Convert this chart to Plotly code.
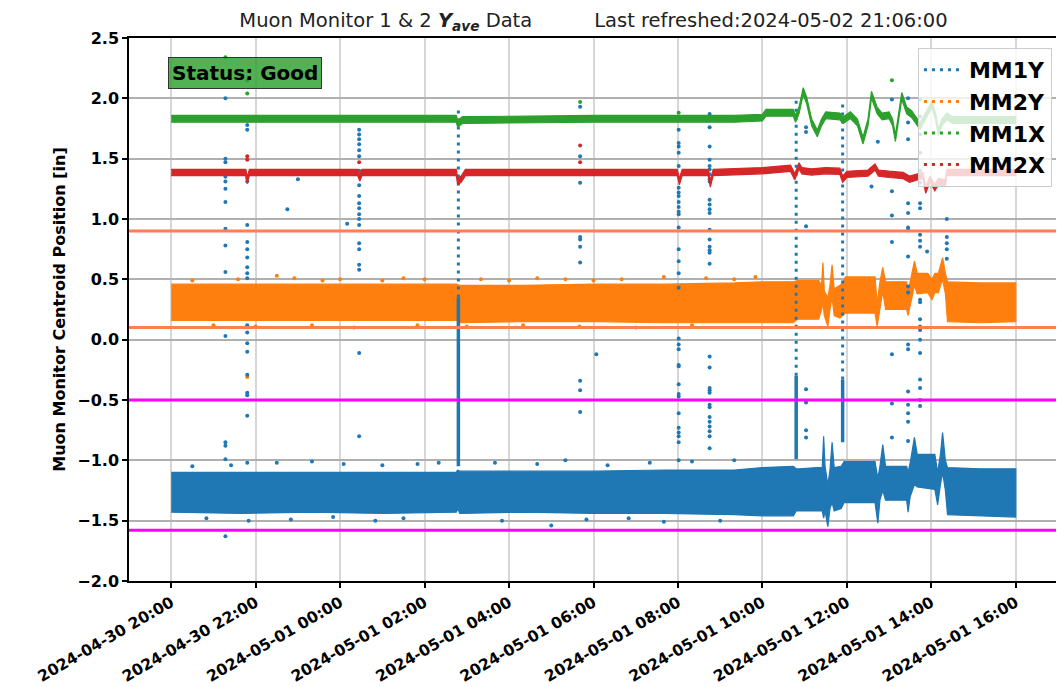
import pandas as pd
import plotly.graph_objects as go

# ---------------- data (minutes after 2024-04-30 20:00) ----------------
T0 = pd.Timestamp("2024-04-30 20:00")

# MM1Y (blue) dense band: lower / upper envelope
blue_t = [0, 100, 200, 300, 405, 407, 410, 500, 600, 700, 800, 840, 884, 888, 892, 918, 925, 927, 929, 933,
          936, 939, 942, 952, 956, 1000, 1004, 1007, 1011, 1015, 1045, 1047, 1050, 1056, 1060, 1085, 1089, 1093,
          1096, 1100, 1103, 1150, 1200]
blue_lo = [-1.43, -1.44, -1.43, -1.44, -1.43, -1.40, -1.44, -1.43, -1.44, -1.44, -1.45, -1.46, -1.46, -1.42, -1.42,
           -1.42, -1.42, -1.48, -1.42, -1.55, -1.40, -1.35, -1.42, -1.40, -1.35, -1.35, -1.52, -1.33, -1.25, -1.33,
           -1.33, -1.43, -1.30, -1.20, -1.22, -1.24, -1.37, -1.20, -1.10, -1.25, -1.45, -1.46, -1.47]
blue_hi = [-1.10, -1.10, -1.10, -1.10, -1.10, -1.08, -1.09, -1.09, -1.09, -1.08, -1.08, -1.06, -1.05, -1.07, -1.07,
           -1.06, -1.06, -0.80, -1.05, -1.20, -1.08, -0.85, -1.06, -1.05, -1.01, -1.01, -1.15, -1.05, -0.87, -1.05,
           -1.05, -1.10, -1.02, -0.81, -0.95, -0.95, -1.10, -0.95, -0.77, -1.00, -1.06, -1.07, -1.07]

# MM2Y (orange) dense band
orange_t = [0, 100, 200, 300, 405, 410, 500, 600, 700, 800, 840, 884, 890, 920, 924, 926, 928, 933, 936, 939,
            942, 950, 954, 958, 1000, 1003, 1007, 1011, 1015, 1045, 1047, 1050, 1056, 1060, 1075, 1081, 1085, 1090,
            1096, 1100, 1103, 1150, 1200]
orange_lo = [0.16, 0.16, 0.16, 0.16, 0.16, 0.14, 0.15, 0.15, 0.14, 0.14, 0.14, 0.14, 0.17, 0.17, 0.25, 0.30, 0.20,
             0.11, 0.25, 0.35, 0.20, 0.18, 0.20, 0.22, 0.22, 0.11, 0.25, 0.40, 0.25, 0.25, 0.20, 0.28, 0.45, 0.38,
             0.39, 0.33, 0.39, 0.39, 0.50, 0.38, 0.15, 0.14, 0.15]
orange_hi = [0.46, 0.46, 0.46, 0.46, 0.46, 0.45, 0.45, 0.46, 0.46, 0.47, 0.48, 0.48, 0.49, 0.49, 0.45, 0.64, 0.40,
             0.35, 0.45, 0.62, 0.42, 0.45, 0.47, 0.52, 0.52, 0.30, 0.48, 0.60, 0.48, 0.48, 0.40, 0.48, 0.65, 0.55,
             0.55, 0.50, 0.55, 0.55, 0.68, 0.55, 0.48, 0.47, 0.47]

# MM1X (green) centre line
green_t = [0, 200, 405, 407, 410, 414, 600, 800, 840, 845, 884, 887, 892, 898, 903, 910, 918, 924, 930, 950,
           955, 965, 975, 983, 990, 995, 1003, 1010, 1020, 1025, 1029, 1034, 1038, 1045, 1052, 1064, 1072, 1081,
           1086, 1090, 1095, 1102, 1110, 1200]
green_v = [1.83, 1.83, 1.83, 1.79, 1.80, 1.82, 1.83, 1.83, 1.84, 1.88, 1.88, 1.83, 1.90, 2.06, 1.98, 1.80, 1.71,
           1.80, 1.86, 1.85, 1.82, 1.86, 1.80, 1.65, 1.80, 2.03, 1.90, 1.85, 1.86, 1.80, 1.67, 1.85, 2.02, 1.90,
           1.87, 1.77, 1.85, 1.95, 1.85, 1.72, 1.80, 1.85, 1.82, 1.82]

# MM2X (red) centre line
red_t = [0, 106, 108, 111, 265, 268, 271, 405, 407, 412, 418, 719, 722, 726, 763, 766, 770, 840, 880, 886,
         892, 896, 910, 930, 950, 954, 960, 990, 1000, 1005, 1020, 1040, 1049, 1060, 1068, 1072, 1078, 1085,
         1090, 1100, 1102, 1200]
red_v = [1.385, 1.385, 1.32, 1.385, 1.385, 1.34, 1.385, 1.385, 1.31, 1.33, 1.385, 1.385, 1.31, 1.385, 1.385,
         1.29, 1.385, 1.40, 1.42, 1.35, 1.44, 1.40, 1.39, 1.40, 1.395, 1.33, 1.37, 1.38, 1.43, 1.38, 1.37, 1.36,
         1.33, 1.35, 1.36, 1.24, 1.33, 1.26, 1.31, 1.30, 1.385, 1.385]

# MM1Y isolated excursions (beam trips): time and the values seen in that column
spike_t = [77, 108, 267, 581, 721, 765, 902, 1024, 1047, 1064, 1102]
spike_v = [
    [2.00, 1.50, 1.47, 1.35, 1.31, 1.25, 1.14, 0.92, 0.78, 0.56, 0.03, -0.85, -0.88, -0.99, -1.63],
    [1.78, 1.74, 1.34, 1.31, 0.95, 0.81, 0.75, 0.68, 0.60, 0.55, 0.51, 0.12, 0.06, -0.03, -0.10, -0.29,
     -0.44, -0.46, -0.63, -1.02],
    [1.74, 1.70, 1.66, 1.62, 1.57, 1.52, 1.40, 1.28, 1.19, 1.13, 1.09, 1.04, 1.00, 0.95, 0.80, 0.75, 0.62,
     0.58, -0.11, -0.80],
    [1.93, 1.52, 1.37, 1.30, 0.85, 0.83, 0.77, 0.64, -0.34, -0.42, -0.60],
    [1.74, 1.63, 1.60, 1.55, 1.44, 1.26, 1.22, 1.19, 1.14, 1.10, 1.06, 1.04, 0.93, 0.75, 0.65, 0.55, 0.43,
     0.01, -0.04, -0.08, -0.21, -0.22, -0.37, -0.45, -0.47, -0.61, -0.73, -0.77, -0.80, -0.85, -1.00],
    [1.87, 1.76, 1.60, 1.49, 1.44, 1.41, 1.37, 1.33, 1.31, 1.16, 1.12, 1.08, 1.05, 0.91, 0.83, 0.77, 0.74,
     0.72, 0.63, -0.14, -0.23, -0.40, -0.42, -0.44, -0.54, -0.56, -0.64, -0.68, -0.72, -0.76, -0.80, -0.90],
    [1.76, 1.72, 0.94, -0.41, -0.52, -0.75, -0.81],
    [1.99, 1.23, 1.03, 0.81, -0.12, -0.53, -0.81],
    [2.00, 1.90, 1.80, 1.66, 1.13, 1.05, 0.93, 0.91, 0.69, 0.44, 0.39, -0.04, -0.08, -0.43, -0.54, -0.61,
     -0.68, -0.84],
    [1.99, 1.85, 1.70, 1.55, 1.40, 1.30, 1.13, 1.09, 0.87, 0.82, 0.77, 0.33, 0.31, 0.17, 0.11, 0.08, 0.00,
     -0.11, -0.33, -0.40, -0.50, -0.55],
    [1.00, 0.85, 0.80, 0.75, 0.67],
]
# long, busy MM1Y columns: sparse part (top..bottom) and dense part (bottom..top)
col_t = [408, 888, 954]
col_sparse_top = [1.92, 1.99, 1.99]
col_dense_top = [0.35, -0.30, -0.33]
col_dense_bot = [-1.05, -0.99, -0.85]

# other single MM1Y points
blue_pt_t = [165, 180, 250, 604, 995, 1004, 1074, 30, 85, 150, 200, 245, 300, 350, 380, 460, 520, 560, 620,
             680, 740, 800, 50, 110, 170, 230, 290, 330, 470, 540, 590, 650, 700, 780]
blue_pt_v = [1.08, 1.33, 0.96, -0.12, 1.27, 1.64, 0.73, -1.05, -1.04, -1.02, -1.01, -1.03, -1.04, -1.03, -1.02,
             -1.02, -1.03, -1.00, -1.04, -1.02, -1.01, -1.00, -1.48, -1.50, -1.49, -1.47, -1.50, -1.48, -1.50,
             -1.54, -1.49, -1.48, -1.51, -1.50]
orange_pt_t = [108, 30, 95, 150, 175, 215, 240, 300, 330, 360, 440, 480, 520, 560, 600, 640, 700, 760, 800,
               830, 60, 120, 200, 260, 350, 420, 500, 580, 660, 740]
orange_pt_v = [-0.31, 0.49, 0.50, 0.53, 0.51, 0.49, 0.50, 0.49, 0.51, 0.50, 0.50, 0.49, 0.51, 0.50, 0.49, 0.50,
               0.52, 0.51, 0.50, 0.52, 0.12, 0.11, 0.12, 0.10, 0.12, 0.11, 0.12, 0.11, 0.10, 0.12]
green_pt_t = [77, 108, 108, 581, 721, 1024]
green_pt_v = [2.34, 2.15, 2.04, 1.97, 1.88, 2.15]
red_pt_t = [108, 108, 267, 581, 581]
red_pt_v = [1.52, 1.49, 1.47, 1.61, 1.47]

# limits
mm2_limits = [0.9, 0.1]
mm1_limits = [-0.5, -1.58]

series_names = ["MM1Y", "MM2Y", "MM1X", "MM2X"]
series_colors = ["#1f77b4", "#ff7f0e", "#2ca02c", "#d62728"]

title_left = "Muon Monitor 1 & 2 <b><i>Y</i></b><sub><b><i>ave</i></b></sub> Data"
title_right = "Last refreshed:2024-05-02 21:06:00"
status_text = "Status: Good"
y_title = "Muon Monitor Centroid Position [in]"


# ---------------- helpers ----------------
def tm(mins):
    return [T0 + pd.Timedelta(minutes=m) for m in mins]


def band(t, lo, hi, color):
    return go.Scatter(x=tm(t) + tm(t[::-1]), y=list(hi) + list(lo[::-1]), mode="lines",
                      fill="toself", fillcolor=color, line=dict(color=color, width=1.2),
                      showlegend=False, hoverinfo="skip")


def center_band(t, v, half, color):
    return band(t, [a - half for a in v], [a + half for a in v], color)


def points(t, v, color):
    return go.Scatter(x=tm(t), y=v, mode="markers", marker=dict(color=color, size=4),
                      showlegend=False, hoverinfo="skip")


BLUE, ORANGE, GREEN, RED = series_colors

fig = go.Figure()
fig.add_trace(band(blue_t, blue_lo, blue_hi, BLUE))
fig.add_trace(band(orange_t, orange_lo, orange_hi, ORANGE))
fig.add_trace(points(blue_pt_t, blue_pt_v, BLUE))
fig.add_trace(points(orange_pt_t, orange_pt_v, ORANGE))

# spike columns
st, sv = [], []
for t, vals in zip(spike_t, spike_v):
    st += [t] * len(vals)
    sv += vals
fig.add_trace(points(st, sv, BLUE))

sx, sy, dx, dy = [], [], [], []
for t, top, dtop, dbot in zip(col_t, col_sparse_top, col_dense_top, col_dense_bot):
    sx += tm([t, t]) + [None]
    sy += [dtop, top, None]
    dx += tm([t, t]) + [None]
    dy += [dbot, dtop, None]
fig.add_trace(go.Scatter(x=sx, y=sy, mode="lines", line=dict(color=BLUE, width=3, dash="3px,5px"),
                         showlegend=False, hoverinfo="skip"))
fig.add_trace(go.Scatter(x=dx, y=dy, mode="lines", line=dict(color=BLUE, width=3.5),
                         showlegend=False, hoverinfo="skip"))

fig.add_trace(center_band(green_t, green_v, 0.028, GREEN))
fig.add_trace(center_band(red_t, red_v, 0.026, RED))
fig.add_trace(points(green_pt_t, green_pt_v, GREEN))
fig.add_trace(points(red_pt_t, red_pt_v, RED))

# legend entries
for name, col in zip(series_names, series_colors):
    fig.add_trace(go.Scatter(x=[None], y=[None], mode="lines", name=name,
                             line=dict(color=col, width=3, dash="3px,5px")))

for y in mm2_limits:
    fig.add_shape(type="line", xref="paper", x0=0, x1=1, y0=y, y1=y,
                  line=dict(color="#ff7f50", width=3))
for y in mm1_limits:
    fig.add_shape(type="line", xref="paper", x0=0, x1=1, y0=y, y1=y,
                  line=dict(color="#ff00ff", width=3))

fig.add_annotation(text=f"<b>{status_text}</b>", xref="paper", yref="paper", x=0.1254, y=0.935,
                   xanchor="center", yanchor="middle", showarrow=False,
                   font=dict(size=20, color="black", family="DejaVu Sans"),
                   bgcolor="rgba(44,160,44,0.82)", bordercolor="#333333", borderwidth=1, borderpad=3)

gap = "\u00a0" * 10
# the page places the figure 8 px in from the top-left corner
fig.update_layout(
    width=1056, height=679,
    margin=dict(l=121, r=6, t=30, b=106),
    plot_bgcolor="white", paper_bgcolor="white",
    font=dict(family="DejaVu Sans", color="black"),
    title=dict(text=title_left + gap + title_right, x=0.5, xref="paper", xanchor="center",
               y=1 - 12 / 679, yref="container", yanchor="middle",
               font=dict(size=19.5, color="#222222")),
    legend=dict(x=0.9935, xanchor="right", y=0.9816, yanchor="top",
                bgcolor="rgba(255,255,255,0.8)", bordercolor="#cccccc", borderwidth=1,
                font=dict(size=22, weight="bold"), itemwidth=40),
    showlegend=True,
)
fig.update_xaxes(type="date", range=["2024-04-30 19:00", "2024-05-01 17:00"],
                 tick0="2024-04-30 20:00", dtick=2 * 3600 * 1000, tickformat="%Y-%m-%d %H:%M",
                 tickangle=-30, tickfont=dict(size=15.5, weight="bold"),
                 showgrid=True, gridcolor="#d6d6d6", gridwidth=2,
                 showline=True, linecolor="black", linewidth=1.5, mirror=True,
                 ticks="outside", ticklen=5, tickwidth=1.5, tickcolor="black", zeroline=False,
                 automargin=False)
fig.update_yaxes(range=[-2.0, 2.5], dtick=0.5, tick0=0, tickformat=".1f",
                 tickfont=dict(size=16, weight="bold"),
                 title=dict(text=y_title, font=dict(size=16, weight="bold"), standoff=8),
                 showgrid=True, gridcolor="#b0b0b0", gridwidth=1.5,
                 showline=True, linecolor="black", linewidth=1.5, mirror=True,
                 ticks="outside", ticklen=5, tickwidth=1.5, tickcolor="black", zeroline=False,
                 automargin=False)

fig.write_html("out.html")
